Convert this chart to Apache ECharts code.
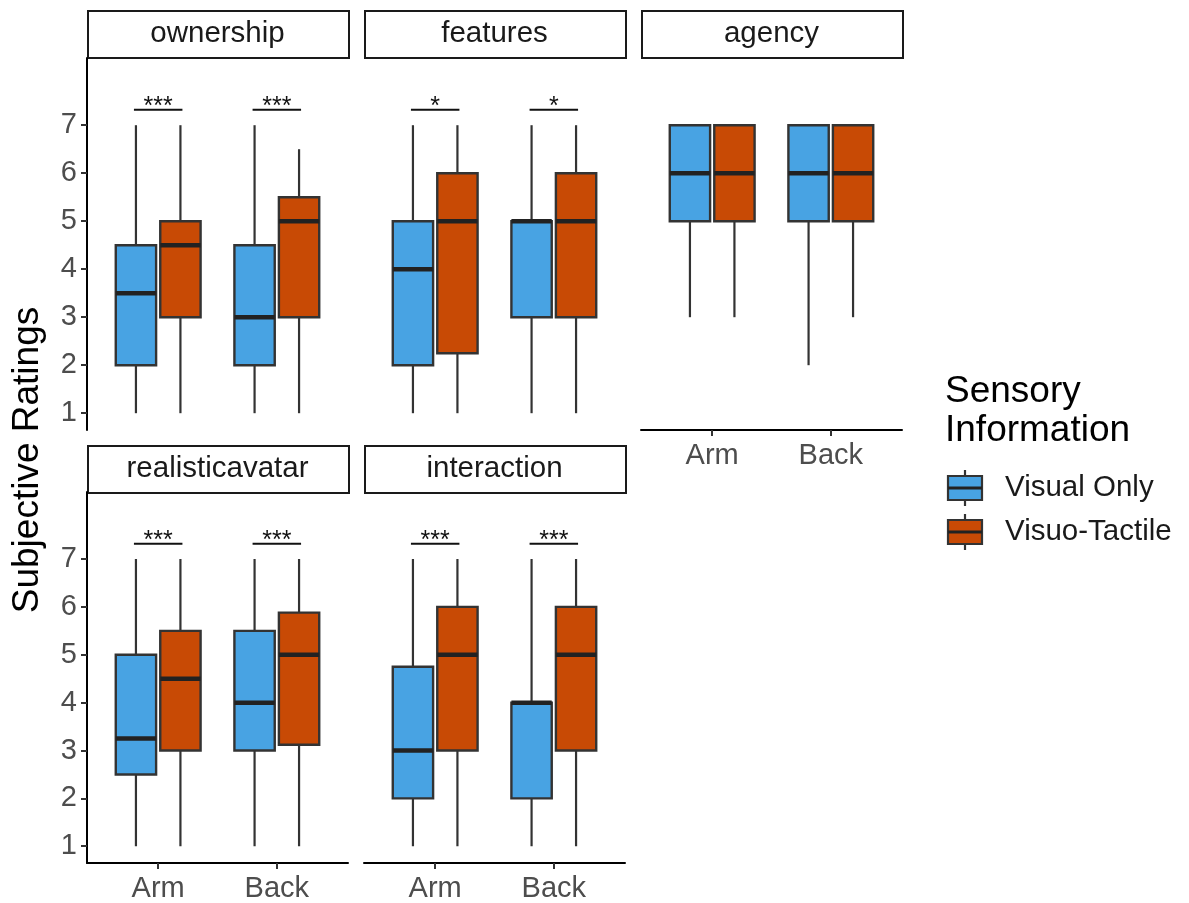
<!DOCTYPE html>
<html>
<head>
<meta charset="utf-8">
<script src="https://cdn.jsdelivr.net/npm/echarts@6/dist/echarts.min.js"></script>
<style>
  html, body { margin: 0; padding: 0; background: #fff; }
  #chart { width: 1189px; height: 903px; }
</style>
</head>
<body>
<div id="chart"></div>
<script>
// categories
const locations = ['Arm', 'Back'];
const groups = ['Visual Only', 'Visuo-Tactile'];
const panelNames = ['ownership', 'features', 'agency', 'realisticavatar', 'interaction'];
const yTicks = [1, 2, 3, 4, 5, 6, 7];

// box stats per location (Arm, Back): [low, q1, median, q3, high]
const ownershipVisual = [[1, 2, 3.5, 4.5, 7], [1, 2, 3, 4.5, 7]];
const ownershipTactile = [[1, 3, 4.5, 5, 7], [1, 3, 5, 5.5, 6.5]];
const featuresVisual = [[1, 2, 4, 5, 7], [1, 3, 5, 5, 7]];
const featuresTactile = [[1, 2.25, 5, 6, 7], [1, 3, 5, 6, 7]];
const agencyVisual = [[3, 5, 6, 7, 7], [2, 5, 6, 7, 7]];
const agencyTactile = [[3, 5, 6, 7, 7], [3, 5, 6, 7, 7]];
const realisticVisual = [[1, 2.5, 3.25, 5, 7], [1, 3, 4, 5.5, 7]];
const realisticTactile = [[1, 3, 4.5, 5.5, 7], [1, 3.12, 5, 5.88, 7]];
const interactionVisual = [[1, 2, 3, 4.75, 7], [1, 2, 4, 4, 7]];
const interactionTactile = [[1, 3, 5, 6, 7], [1, 3, 5, 6, 7]];

// significance labels (Arm, Back)
const ownershipSignif = ['***', '***'];
const featuresSignif = ['*', '*'];
const agencySignif = [];
const realisticSignif = ['***', '***'];
const interactionSignif = ['***', '***'];
const signifLevel = 7.32;

const colors = ['#48A3E3', '#C84A05'];
const FONT = '"Liberation Sans", Arial, Helvetica, sans-serif';
const DODGE = 0.1875;
const BOX_HALF = 0.17;

const panelStats = [
  [ownershipVisual, ownershipTactile],
  [featuresVisual, featuresTactile],
  [agencyVisual, agencyTactile],
  [realisticVisual, realisticTactile],
  [interactionVisual, interactionTactile]
];
const panelSignif = [ownershipSignif, featuresSignif, agencySignif, realisticSignif, interactionSignif];

// layout: [row, col]
const panelPos = [[0, 0], [0, 1], [0, 2], [1, 0], [1, 1]];
const colLeft = [87, 364, 641];
const rowTop = [58, 492];
const stripTop = [10, 445];
const panelW = 261;
const panelH = 372;

function boxRenderer(offset, color) {
  return function (params, api) {
    const x = api.value(0) + offset;
    const bl = api.coord([x - BOX_HALF, api.value(2)]);
    const tr = api.coord([x + BOX_HALF, api.value(4)]);
    const lo = api.coord([x, api.value(1)]);
    const hi = api.coord([x, api.value(5)]);
    const med = api.coord([x, api.value(3)]);
    const whisker = { stroke: '#333', lineWidth: 2.2 };
    return {
      type: 'group',
      children: [
        { type: 'line', shape: { x1: lo[0], y1: lo[1], x2: lo[0], y2: bl[1] }, style: whisker },
        { type: 'line', shape: { x1: hi[0], y1: tr[1], x2: hi[0], y2: hi[1] }, style: whisker },
        {
          type: 'rect',
          shape: { x: bl[0], y: tr[1], width: tr[0] - bl[0], height: bl[1] - tr[1] },
          style: { fill: color, stroke: '#333', lineWidth: 2.4 }
        },
        { type: 'line', shape: { x1: bl[0], y1: med[1], x2: tr[0], y2: med[1] }, style: { stroke: '#222', lineWidth: 4.5 } }
      ]
    };
  };
}

function signifRenderer(labels) {
  return function (params, api) {
    const x = api.value(0);
    const a = api.coord([x - DODGE, api.value(1)]);
    const b = api.coord([x + DODGE, api.value(1)]);
    return {
      type: 'group',
      children: [
        { type: 'line', shape: { x1: a[0] - 2, y1: a[1], x2: b[0] + 2, y2: b[1] }, style: { stroke: '#111', lineWidth: 2 } },
        {
          type: 'text', x: (a[0] + b[0]) / 2, y: a[1] - 3,
          style: { text: labels[params.dataIndex], fill: '#111', font: '25px ' + FONT, align: 'center', verticalAlign: 'middle' }
        }
      ]
    };
  };
}

const grids = [], xAxes = [], yAxes = [], series = [], graphics = [];

panelPos.forEach(([r, c], i) => {
  const showX = (r === 1) || (c === 2);
  const showY = c === 0;
  grids.push({ left: colLeft[c], top: rowTop[r], width: panelW, height: panelH });
  xAxes.push({
    type: 'value', gridIndex: i, min: 0.4, max: 2.6,
    axisLine: { show: showX, onZero: false, lineStyle: { color: '#000', width: 2 } },
    axisTick: { show: showX, customValues: [1, 2], length: 6, lineStyle: { color: '#333', width: 2 } },
    axisLabel: {
      show: showX, customValues: [1, 2], margin: 11,
      formatter: v => locations[Math.round(v) - 1],
      fontSize: 29, color: '#4D4D4D', fontFamily: FONT
    },
    splitLine: { show: false }
  });
  yAxes.push({
    type: 'value', gridIndex: i, min: 0.65, max: 8.4,
    axisLine: { show: showY, onZero: false, lineStyle: { color: '#000', width: 2 } },
    axisTick: { show: showY, customValues: yTicks, length: 6, lineStyle: { color: '#333', width: 2 } },
    axisLabel: { show: showY, customValues: yTicks, margin: 10, fontSize: 29, color: '#4D4D4D', fontFamily: FONT },
    splitLine: { show: false }
  });

  panelStats[i].forEach((stats, g) => {
    series.push({
      type: 'custom', name: groups[g], xAxisIndex: i, yAxisIndex: i,
      dimensions: ['x', 'low', 'q1', 'median', 'q3', 'high'],
      encode: { x: 0, y: [1, 2, 3, 4, 5] },
      data: stats.map((s, k) => [k + 1].concat(s)),
      renderItem: boxRenderer(g === 0 ? -DODGE : DODGE, colors[g]),
      silent: true
    });
  });

  const labels = panelSignif[i];
  if (labels.length) {
    series.push({
      type: 'custom', xAxisIndex: i, yAxisIndex: i,
      encode: { x: 0, y: 1 },
      data: labels.map((t, k) => [k + 1, signifLevel]),
      renderItem: signifRenderer(labels),
      silent: true
    });
  }

  // facet strip
  graphics.push({
    type: 'rect', left: colLeft[c], top: stripTop[r],
    shape: { width: panelW, height: 47 },
    style: { fill: '#fff', stroke: '#1A1A1A', lineWidth: 2 }
  });
  graphics.push({
    type: 'text', x: colLeft[c] + panelW / 2, y: stripTop[r] + 24,
    style: { text: panelNames[i], font: '29.5px ' + FONT, fill: '#1A1A1A', align: 'center', verticalAlign: 'middle' }
  });
});

// y axis title
graphics.push({
  type: 'text', x: 28, y: 460, rotation: Math.PI / 2,
  style: { text: 'Subjective Ratings', font: '37px ' + FONT, fill: '#000', align: 'center', verticalAlign: 'middle' }
});

// legend
graphics.push({
  type: 'text', x: 945, y: 372,
  style: { text: 'Sensory\nInformation', font: '37px ' + FONT, lineHeight: 39, fill: '#000', align: 'left', verticalAlign: 'top' }
});
const keyCenters = [488, 532];
groups.forEach((name, g) => {
  const cy = keyCenters[g];
  graphics.push({ type: 'line', shape: { x1: 965, y1: cy - 18, x2: 965, y2: cy + 18 }, style: { stroke: '#333', lineWidth: 2.2 } });
  graphics.push({ type: 'rect', shape: { x: 948, y: cy - 12, width: 34, height: 24 }, style: { fill: colors[g], stroke: '#333', lineWidth: 2.2 } });
  graphics.push({ type: 'line', shape: { x1: 948, y1: cy, x2: 982, y2: cy }, style: { stroke: '#222', lineWidth: 3 } });
  graphics.push({
    type: 'text', x: 1005, y: cy,
    style: { text: name, font: '29.5px ' + FONT, fill: '#1A1A1A', align: 'left', verticalAlign: 'middle' }
  });
});

const chart = echarts.init(document.getElementById('chart'));
chart.setOption({
  animation: false,
  backgroundColor: '#fff',
  grid: grids,
  xAxis: xAxes,
  yAxis: yAxes,
  series: series,
  graphic: graphics
});
</script>
</body>
</html>
